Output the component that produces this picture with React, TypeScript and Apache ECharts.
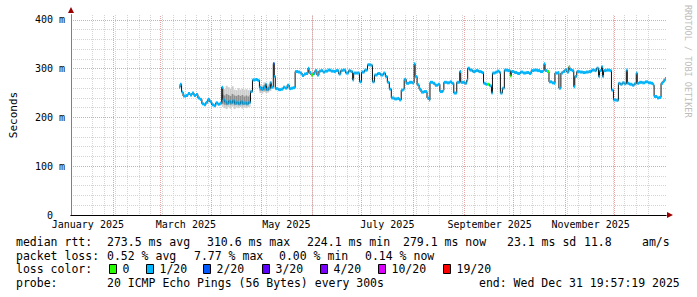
import React, { useEffect, useRef } from "react";
import * as echarts from "echarts";

// ---- time axis: days since 2025-01-01 00:00 ----
const X_MIN = 5;
const X_MAX = 365;
const monthStartDays = [31, 59, 90, 120, 151, 181, 212, 243, 273, 304, 334];
const monthLabelDays = [15.2, 74.5, 135.3, 196.4, 258.3, 319.4];
const monthLabels = ["January 2025", "March 2025", "May 2025", "July 2025", "September 2025", "November 2025"];
const firstWeekLineDay = 11; // Sunday 2025-01-12

// ---- y axis (milliseconds) ----
const Y_MAX = 410;

// ---- median rtt (ms) ----
const medianDays = [
  70.4, 71.0, 71.9, 72.8, 74.6, 75.8, 77.0, 78.2, 79.4, 80.6,
  81.8, 83.0, 84.2, 85.4, 86.6, 87.8, 89.0, 90.2, 91.4, 92.6,
  93.8, 95.0, 96.2, 96.8, 98.0, 99.2, 100.4, 101.6, 102.8, 104.0,
  105.2, 106.4, 107.6, 108.8, 110.0, 111.2, 112.4, 113.6, 114.8, 116.6,
  117.8, 119.0, 120.2, 121.4, 122.6, 123.2, 124.4, 125.6, 126.2, 127.4,
  128.0, 128.6, 130.4, 132.2, 133.4, 134.6, 135.8, 137.0, 138.2, 139.4,
  140.6, 142.4, 143.6, 144.8, 146.0, 147.2, 148.4, 149.0, 150.2, 151.4,
  152.6, 153.8, 155.0, 156.2, 157.4, 158.6, 160.4, 162.2, 164.0, 165.2,
  167.0, 168.2, 169.4, 171.2, 173.0, 174.2, 175.4, 176.0, 177.8, 179.6,
  180.8, 182.6, 184.4, 186.2, 187.4, 188.6, 190.4, 192.2, 194.0, 195.2,
  196.4, 197.6, 198.8, 200.6, 202.4, 203.6, 204.8, 206.0, 206.6, 207.8,
  209.6, 211.4, 212.6, 213.2, 214.4, 215.6, 216.8, 218.6, 220.4, 221.6,
  222.2, 224.0, 225.2, 227.0, 228.2, 230.0, 230.6, 232.4, 234.2, 235.4,
  236.6, 238.4, 240.2, 240.8, 243.2, 244.4, 245.0, 246.2, 248.0, 249.8,
  251.6, 253.4, 254.6, 255.8, 257.0, 258.2, 259.4, 260.0, 261.8, 263.0,
  264.2, 264.8, 266.0, 267.2, 269.0, 270.8, 271.4, 273.2, 275.0, 276.8,
  278.6, 280.4, 282.2, 283.4, 285.2, 287.0, 288.8, 290.6, 291.2, 291.8,
  293.0, 294.2, 296.0, 297.2, 297.8, 299.6, 300.2, 301.4, 302.6, 303.8,
  305.0, 306.2, 306.8, 308.0, 309.2, 309.8, 311.0, 312.8, 314.6, 316.4,
  318.2, 320.0, 321.8, 323.0, 324.2, 324.8, 326.0, 326.6, 327.2, 329.0,
  330.8, 332.0, 333.2, 335.0, 336.2, 337.4, 338.6, 339.8, 341.0, 341.6,
  342.8, 344.6, 345.8, 347.0, 347.6, 348.8, 350.6, 352.4, 354.2, 356.0,
  357.2, 357.8, 359.6, 360.8, 362.0, 363.2, 364.4, 365.0,
];
const medianMs = [
  262, 268, 252, 244, 245, 249, 246, 250, 245, 247,
  240, 237, 228, 226, 231, 237, 232, 226, 224, 230,
  227, 229, 262, 236, 232, 229, 233, 230, 234, 229,
  231, 228, 232, 229, 230, 228, 231, 253, 277, 278,
  276, 261, 258, 262, 268, 257, 260, 271, 262, 310.6,
  284, 259, 257, 258, 262, 260, 266, 259, 260, 261,
  294, 293, 291, 286, 289, 290, 301, 292, 287, 290,
  296, 287, 295, 296, 293, 295, 297, 295, 294, 296,
  289, 296, 297, 291, 296, 294, 277, 291, 291, 273,
  293, 297, 308, 307, 273, 287, 290, 287, 291, 284,
  272, 258, 240, 238, 239, 236, 256, 258, 278, 270,
  272, 271, 310, 284, 267, 258, 252, 253, 240, 236,
  272, 270, 266, 268, 253, 256, 272, 271, 273, 270,
  250, 272, 294, 272, 270, 276, 301, 297, 294, 296,
  294, 292, 270, 268, 268, 265, 250, 291, 293, 295,
  292, 250, 260, 297, 296, 285, 294, 292, 290, 293,
  291, 292, 290, 296, 297, 296, 294, 296, 310, 296,
  294, 273, 271, 270, 291, 292, 260, 291, 294, 298,
  293, 304, 298, 296, 263, 284, 294, 293, 292, 293,
  294, 297, 296, 301, 284, 296, 304, 284, 296, 297,
  296, 256, 236, 235, 270, 268, 271, 269, 297, 270,
  268, 266, 269, 291, 270, 272, 271, 273, 271, 270,
  266, 243, 240, 241, 270, 275, 280, 279.1,
];
// loss level (index into lossColors); every sample not listed is level 1 (1/20)
const lossOverrideDays = [127.4, 150.2, 257.0, 270.8, 293.0, 306.2];
const lossOverrideLevels = [2, 0, 0, 0, 0, 0];

// ---- smoke (ping spread, ms); null ends a stretch ----
const smokeDays = [96.2, 97.4, 98.6, 99.8, 101.0, 102.2, 103.4, 104.6, 105.8, 107.0, 108.2, 109.4, 110.6, 111.8, 113.0, 113.6,
  119.0, 120.2, 121.4, 122.6, 123.8, 125.0, 126.2];
const smokeOuterLow = [222, 219, 217, 221, 218, 222, 217, 220, 219, 221, 218, 220, 219, 221, 222, null,
  250, 249, 252, 250, 251, 254, null];
const smokeOuterHigh = [262, 258, 265, 262, 259, 264, 257, 256, 260, 257, 259, 257, 258, 256, 258, null,
  268, 266, 272, 270, 268, 274, null];
const smokeInnerLow = [228, 226, 225, 227, 226, 228, 225, 226, 225, 227, 225, 226, 225, 227, 228, null,
  255, 254, 255, 254, 255, 258, null];
const smokeInnerHigh = [247, 245, 248, 246, 244, 248, 245, 244, 246, 244, 246, 243, 245, 243, 246, null,
  264, 262, 266, 265, 263, 268, null];

// ---- legend ----
const lossLabels = ["0", "1/20", "2/20", "3/20", "4/20", "10/20", "19/20"];
const lossColors = ["#26ff00", "#00b8ff", "#0059ff", "#5e00ff", "#7e00ff", "#dd00ff", "#ff0000"];
const rttSummary = ["273.5 ms avg", "310.6 ms max", "224.1 ms min", "279.1 ms now", "23.1 ms sd", "11.8", "am/s"];
const lossSummary = ["0.52 % avg", "7.77 % max", "0.00 % min", "0.14 % now"];
const probeText = "20 ICMP Echo Pings (56 Bytes) every 300s";
const endText = "end: Wed Dec 31 19:57:19 2025";
const watermark = "RRDTOOL / TOBI OETIKER";

const MONO = '"DejaVu Sans Mono", monospace';

function buildOption() {
  const weekDays: number[] = [];
  for (let d = firstWeekLineDay; d < X_MAX; d += 7) weekDays.push(d);

  const medianLine = medianDays.map((d, i) => [d, medianMs[i]]);
  const lossSegs = medianDays.map((d, i) => {
    const k = lossOverrideDays.indexOf(d);
    const level = k >= 0 ? lossOverrideLevels[k] : 1;
    const end = i + 1 < medianDays.length ? medianDays[i + 1] : d;
    return [d, medianMs[i], end, level];
  }).filter((s) => s[2] > s[0]);

  const smokeData: number[][] = [];
  smokeDays.forEach((d, i) => {
    if (smokeOuterLow[i] == null || i + 1 >= smokeDays.length) return;
    smokeData.push([d, smokeDays[i + 1], smokeOuterLow[i] as number, smokeOuterHigh[i] as number,
      smokeInnerLow[i] as number, smokeInnerHigh[i] as number]);
  });

  const gridLine = (color: string) => ({ color, type: [1, 1] as any, width: 1 });
  const MINOR = "#d4d4d4";
  const MAJOR = "#e8a4a4";

  const rows = [242, 255.5, 269, 283];
  const font = `11.5px ${MONO}`;
  const txt = (x: number, y: number, text: string, fill = "#000") => ({
    type: "text", x, y, silent: true,
    style: { text, fill, font, align: "left", verticalAlign: "middle" },
  });
  const rttX = [107, 207, 307, 403, 507, 584, 642];
  const lossX = [107, 194, 279, 365];
  const boxX = [109, 146, 203, 262, 320, 378, 443];

  const graphics: any[] = [
    txt(16, rows[0], "median rtt:"),
    ...rttSummary.map((s, i) => txt(rttX[i], rows[0], s)),
    txt(16, rows[1], "packet loss:"),
    ...lossSummary.map((s, i) => txt(lossX[i], rows[1], s)),
    txt(16, rows[2], "loss color:"),
    ...lossLabels.map((s, i) => ({
      type: "rect", silent: true,
      shape: { x: boxX[i] + 0.5, y: rows[2] - 4.5, width: 7, height: 9 },
      style: { fill: lossColors[i], stroke: "#000", lineWidth: 1 },
    })),
    ...lossLabels.map((s, i) => txt(boxX[i] + 13.5, rows[2], s)),
    txt(16, rows[3], "probe:"),
    txt(107, rows[3], probeText),
    txt(479, rows[3], endText),
    {
      type: "text", x: 688, y: 5, rotation: -Math.PI / 2, silent: true,
      style: { text: watermark, fill: "#bdbdbd", font: `8.5px ${MONO}`, align: "left", verticalAlign: "middle" },
    },
  ];

  return {
    animation: false,
    backgroundColor: "#ffffff",
    grid: { left: 66, top: 15, width: 600, height: 200, containLabel: false },
    xAxis: [
      // weekly minor grid
      {
        type: "value", position: "bottom", min: X_MIN, max: X_MAX,
        axisLabel: { show: false }, axisLine: { show: false },
        axisTick: { show: false, customValues: weekDays },
        splitLine: { show: true, showMinLine: false, showMaxLine: false, lineStyle: gridLine(MINOR) },
      },
      // arrow head
      {
        type: "value", position: "bottom", min: X_MIN, max: X_MAX,
        axisLine: {
          show: true, onZero: false, symbol: ["none", "triangle"], symbolSize: [6, 6], symbolOffset: [0, 4],
          lineStyle: { color: "#990000", width: 1 },
        },
        axisTick: { show: false }, axisLabel: { show: false }, splitLine: { show: false },
      },
      // main axis with labels
      {
        type: "value", position: "bottom", min: X_MIN, max: X_MAX,
        axisLine: { show: true, onZero: false, lineStyle: { color: "#000000", width: 1 } },
        axisTick: { show: false },
        axisLabel: {
          customValues: monthLabelDays,
          formatter: (v: number) => {
            let best = 0;
            monthLabelDays.forEach((d, i) => { if (Math.abs(d - v) < Math.abs(monthLabelDays[best] - v)) best = i; });
            return monthLabels[best];
          },
          fontFamily: MONO, fontSize: 10, color: "#000", margin: 4, hideOverlap: false,
        },
        splitLine: { show: false },
      },
    ],
    yAxis: [
      {
        type: "value", position: "left", min: 0, max: Y_MAX, interval: 20,
        axisLine: {
          show: true, onZero: false, symbol: ["none", "triangle"], symbolSize: [6, 6], symbolOffset: [0, 5],
          lineStyle: { color: "#990000", width: 1 },
        },
        axisTick: { show: false }, axisLabel: { show: false },
        splitLine: { show: true, showMinLine: false, showMaxLine: false, lineStyle: gridLine(MINOR) },
      },
      {
        type: "value", position: "left", min: 0, max: Y_MAX, interval: 100,
        axisLine: { show: true, onZero: false, lineStyle: { color: "#808080", width: 1 } },
        axisTick: { show: false },
        axisLabel: {
          formatter: (v: number) => (v === 0 ? "{z|0}" : `${v} m`),
          rich: { z: { fontFamily: MONO, fontSize: 10, color: "#000", padding: [0, 12, 0, 0] } },
          fontFamily: MONO, fontSize: 10, color: "#000", margin: 6, showMaxLabel: false,
        },
        splitLine: { show: true, showMinLine: false, showMaxLine: false, lineStyle: gridLine(MAJOR) },
        name: "Seconds", nameLocation: "middle", nameGap: 52, nameRotate: 90,
        nameTextStyle: { fontFamily: MONO, fontSize: 11, color: "#000" },
      },
    ],
    series: [
      {
        // monthly major grid lines, placed through the axis scale and snapped to the pixel grid
        type: "custom", name: "monthGrid", xAxisIndex: 2, yAxisIndex: 1, z: 1, silent: true, clip: true,
        encode: { x: 0 },
        data: monthStartDays.map((d) => [d]),
        renderItem: (_p: any, api: any) => {
          const b = api.coord([api.value(0), 0]);
          const t = api.coord([api.value(0), Y_MAX]);
          const x = Math.floor(b[0]) + 0.5;
          return {
            type: "line",
            shape: { x1: x, y1: b[1], x2: x, y2: t[1] },
            style: { stroke: MAJOR, lineWidth: 1, lineDash: [1, 1] },
          };
        },
      },
      {
        type: "custom", name: "smoke", xAxisIndex: 2, yAxisIndex: 1, z: 3, silent: true, clip: true,
        encode: { x: 0, y: 2 },
        data: smokeData,
        renderItem: (_p: any, api: any) => {
          const a = api.coord([api.value(0), api.value(3)]);
          const b = api.coord([api.value(1), api.value(2)]);
          const c = api.coord([api.value(0), api.value(5)]);
          const d = api.coord([api.value(1), api.value(4)]);
          return {
            type: "group",
            children: [
              { type: "rect", shape: { x: a[0], y: a[1], width: b[0] - a[0], height: b[1] - a[1] }, style: { fill: "#cdcdcd" } },
              { type: "rect", shape: { x: c[0], y: c[1], width: d[0] - c[0], height: d[1] - c[1] }, style: { fill: "#8e8e8e" } },
            ],
          };
        },
      },
      {
        type: "line", name: "median", xAxisIndex: 2, yAxisIndex: 1, z: 4, silent: true,
        step: "end", showSymbol: false, data: medianLine,
        lineStyle: { color: "#111111", width: 1 },
      },
      {
        type: "custom", name: "loss", xAxisIndex: 2, yAxisIndex: 1, z: 5, silent: true, clip: true,
        encode: { x: 0, y: 1 },
        data: lossSegs,
        renderItem: (_p: any, api: any) => {
          const s = api.coord([api.value(0), api.value(1)]);
          const e = api.coord([api.value(2), api.value(1)]);
          return {
            type: "rect",
            shape: { x: s[0], y: s[1] - 1.5, width: Math.max(e[0] - s[0], 1.2), height: 3 },
            style: { fill: lossColors[api.value(3)] },
          };
        },
      },
    ],
    graphic: graphics,
  };
}

export default function App() {
  const ref = useRef<HTMLDivElement>(null);
  useEffect(() => {
    if (!ref.current) return;
    const chart = echarts.init(ref.current, undefined, { renderer: "svg" });
    chart.setOption(buildOption() as any);
    return () => chart.dispose();
  }, []);
  return (
    <div
      ref={ref}
      style={{ position: "absolute", left: 0, top: 0, width: 697, height: 297, background: "#fff" }}
    />
  );
}
